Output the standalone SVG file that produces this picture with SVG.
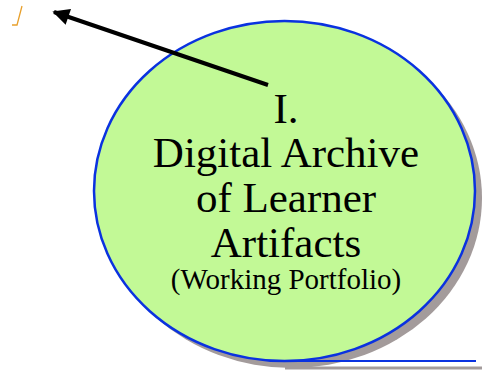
<svg xmlns="http://www.w3.org/2000/svg" width="487" height="372" viewBox="0 0 487 372">
<style>
text{font-family:'Liberation Serif','Times New Roman',Tinos,Times,serif;fill:#000;text-anchor:middle}
</style>
<defs>
<marker id="ah" viewBox="0 0 10 10" refX="9" refY="5" markerWidth="4.6" markerHeight="4.2" orient="auto" markerUnits="strokeWidth">
<path d="M0,0 L10,5 L0,10 Z" fill="#000"/>
</marker>
</defs>
<rect width="487" height="372" fill="#fff"/>
<g id="mark">
<polyline points="22,6 17,25 12,25" fill="none" stroke="#e8a02c" stroke-width="1.3"/>
</g>
<g id="node1">
<ellipse cx="291.5" cy="198" rx="190.5" ry="170" fill="#a39b9b"/>
<line x1="285" y1="368" x2="482" y2="368" stroke="#a39b9b" stroke-width="3"/>
<ellipse cx="284.5" cy="191" rx="190.5" ry="170" fill="#c2f996" stroke="#0a32e0" stroke-width="2.5"/>
<line x1="279" y1="361" x2="476" y2="361" stroke="#0a32e0" stroke-width="2"/>
<text x="286" y="123" font-size="43" font-family="Liberation Serif, serif">I.</text>
<text x="286" y="167" font-size="43" font-family="Liberation Serif, serif">Digital Archive</text>
<text x="286" y="212" font-size="43" font-family="Liberation Serif, serif">of Learner</text>
<text x="286" y="257" font-size="43" font-family="Liberation Serif, serif">Artifacts</text>
<text x="286" y="289" font-size="29" font-family="Liberation Serif, serif">(Working Portfolio)</text>
</g>
<g id="connectors">
<line x1="268" y1="85" x2="54" y2="12" stroke="#000" stroke-width="4" marker-end="url(#ah)"/>
</g>
</svg>
